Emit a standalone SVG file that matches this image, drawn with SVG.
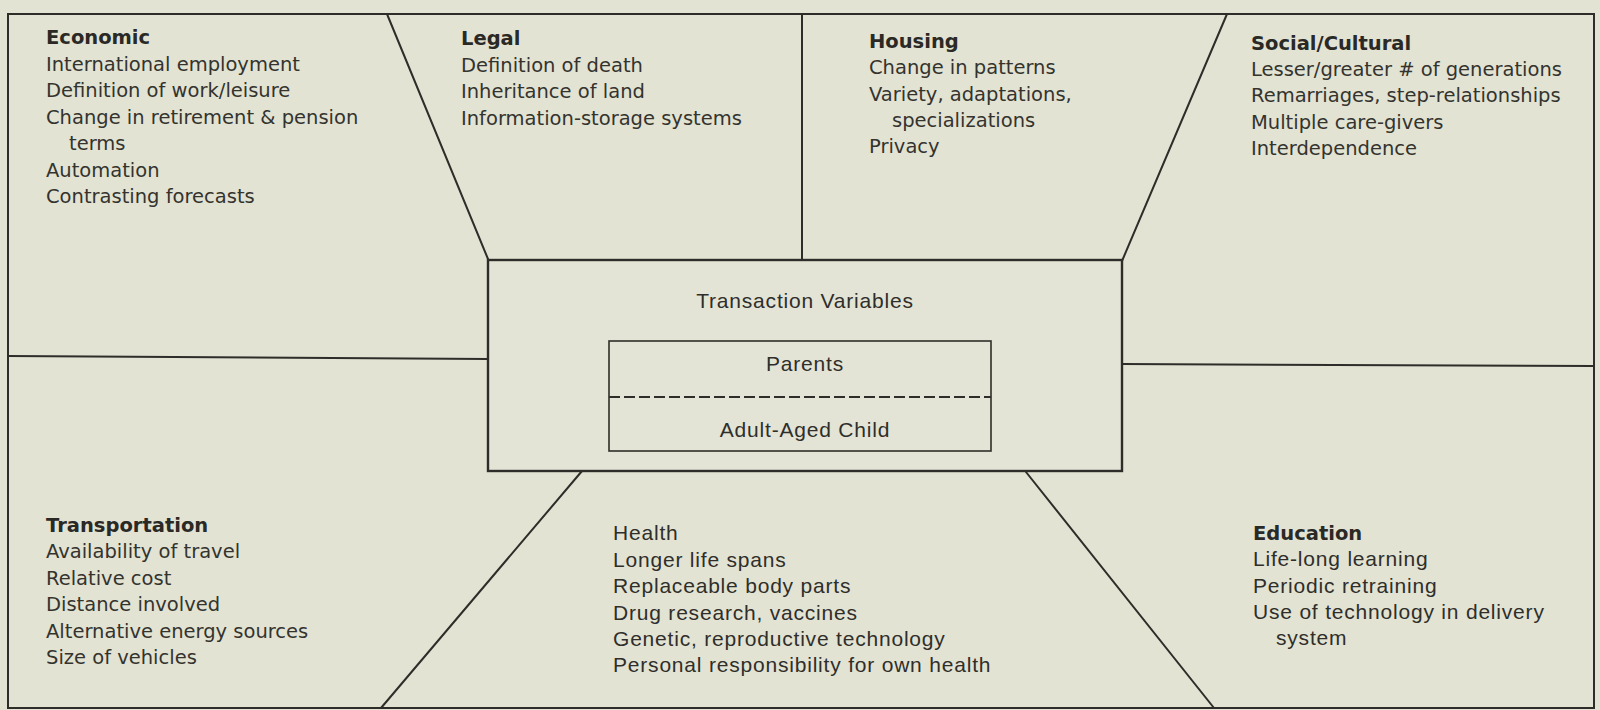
<svg xmlns="http://www.w3.org/2000/svg" width="1600" height="710" viewBox="0 0 1600 710">
<style>
.bg{fill:#e2e3d3}
.ln{stroke:#2e2d29;stroke-width:2;fill:none;stroke-linecap:round}
.box{stroke:#2e2d29;stroke-width:2.4;fill:#e3e4d5}
.inner{stroke:#2e2d29;stroke-width:1.6;fill:none}
.dash{stroke:#2e2d29;stroke-width:2;stroke-dasharray:11 4}
.w{font-family:"DejaVu Sans","Liberation Sans",sans-serif;font-size:19.5px;fill:#34332e}
.h{font-weight:bold;fill:#2a2925}
.c{font-family:"Liberation Sans",Arial,sans-serif;font-size:21px;letter-spacing:0.8px;fill:#2f2e2a}
.hb{font-family:"DejaVu Sans","Liberation Sans",sans-serif;font-size:19.5px;font-weight:bold;fill:#2a2925}
</style>
<rect class="bg" x="0" y="0" width="1600" height="710"/>
<g id="connectors">
<rect class="ln" x="8" y="14" width="1586" height="694"/>
<line class="ln" x1="387" y1="14" x2="488" y2="259"/>
<line class="ln" x1="802" y1="14" x2="802" y2="260"/>
<line class="ln" x1="1227" y1="14" x2="1122" y2="261"/>
<line class="ln" x1="8" y1="356" x2="488" y2="359"/>
<line class="ln" x1="1122" y1="364" x2="1594" y2="366"/>
<line class="ln" x1="582" y1="471" x2="381" y2="708"/>
<line class="ln" x1="1026" y1="472" x2="1214" y2="708"/>
</g>
<g id="center">
<rect class="box" x="488" y="260" width="634" height="211"/>
<text class="c" x="805" y="308" text-anchor="middle">Transaction Variables</text>
<rect class="inner" x="609" y="341" width="382" height="110"/>
<text class="c" x="805" y="371" text-anchor="middle">Parents</text>
<line class="dash" x1="609" y1="397" x2="991" y2="397"/>
<text class="c" x="805" y="437" text-anchor="middle">Adult-Aged Child</text>
</g>
<g id="economic">
<text class="w h" x="46" y="44">Economic</text>
<text class="w" x="46" y="70.5">International employment</text>
<text class="w" x="46" y="97">Definition of work/leisure</text>
<text class="w" x="46" y="123.5">Change in retirement &amp; pension</text>
<text class="w" x="69" y="150">terms</text>
<text class="w" x="46" y="176.5">Automation</text>
<text class="w" x="46" y="203">Contrasting forecasts</text>
</g>
<g id="legal">
<text class="w h" x="461" y="45">Legal</text>
<text class="w" x="461" y="71.5">Definition of death</text>
<text class="w" x="461" y="98">Inheritance of land</text>
<text class="w" x="461" y="124.5">Information-storage systems</text>
</g>
<g id="housing">
<text class="w h" x="869" y="48">Housing</text>
<text class="w" x="869" y="74">Change in patterns</text>
<text class="w" x="869" y="100.5">Variety, adaptations,</text>
<text class="w" x="892" y="127">specializations</text>
<text class="w" x="869" y="153">Privacy</text>
</g>
<g id="social">
<text class="w h" x="1251" y="50">Social/Cultural</text>
<text class="w" x="1251" y="76">Lesser/greater # of generations</text>
<text class="w" x="1251" y="102">Remarriages, step-relationships</text>
<text class="w" x="1251" y="128.5">Multiple care-givers</text>
<text class="w" x="1251" y="155">Interdependence</text>
</g>
<g id="transportation">
<text class="w h" x="46" y="532">Transportation</text>
<text class="w" x="46" y="558">Availability of travel</text>
<text class="w" x="46" y="584.5">Relative cost</text>
<text class="w" x="46" y="611">Distance involved</text>
<text class="w" x="46" y="637.5">Alternative energy sources</text>
<text class="w" x="46" y="663.5">Size of vehicles</text>
</g>
<g id="health">
<text class="c" x="613" y="540">Health</text>
<text class="c" x="613" y="566.5">Longer life spans</text>
<text class="c" x="613" y="593">Replaceable body parts</text>
<text class="c" x="613" y="619.5">Drug research, vaccines</text>
<text class="c" x="613" y="646">Genetic, reproductive technology</text>
<text class="c" x="613" y="672">Personal responsibility for own health</text>
</g>
<g id="education">
<text class="hb" x="1253" y="540">Education</text>
<text class="c" x="1253" y="566">Life-long learning</text>
<text class="c" x="1253" y="592.5">Periodic retraining</text>
<text class="c" x="1253" y="619">Use of technology in delivery</text>
<text class="c" x="1276" y="645">system</text>
</g>
</svg>
